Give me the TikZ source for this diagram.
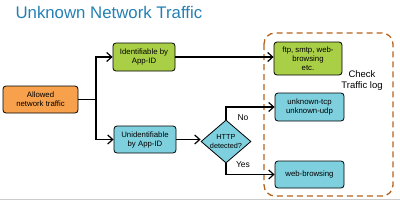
\documentclass[tikz,border=0pt]{standalone}
\usepackage{fontspec}
\setmainfont{Liberation Sans}
\usetikzlibrary{arrows.meta, shapes.geometric}
\definecolor{ofill}{RGB}{247,161,76}
\definecolor{gfill}{RGB}{169,207,70}
\definecolor{cfill}{RGB}{127,208,222}
\definecolor{logline}{RGB}{180,98,30}
\definecolor{titleblue}{RGB}{36,128,180}

\begin{document}
\begin{tikzpicture}[
  x=1pt, y=-1pt,
  font=\fontsize{7.8}{9}\selectfont,
  box/.style={draw, rounded corners=3pt, align=center, inner sep=1pt,
              line width=0.8pt},
  o/.style={box, fill=ofill},
  g/.style={box, fill=gfill},
  c/.style={box, fill=cfill},
  flow/.style={-{Straight Barb[length=5pt, width=9pt, line width=1.2pt]}, line width=1.3pt},
]
\useasboundingbox (0,0) rectangle (400,201);
\draw[black!20, line width=1pt] (0,199.5) -- (400,199.5);

\node[titleblue, anchor=base west, font=\fontsize{16.8}{18}\selectfont] (title) at (12,18.5) {Unknown Network Traffic};

% sources
\node[o, minimum width=75, minimum height=27] (allowed) at (40.5,99.5) {Allowed\\network traffic};
\node[g, minimum width=62, minimum height=28] (ident) at (144,57) {Identifiable by\\App-ID};
\node[c, minimum width=62, minimum height=27] (unid) at (145,139.5) {Unidentifiable\\by App-ID};
\node[c, diamond, rounded corners=0pt, inner sep=0pt, aspect=1.16, minimum width=50, minimum height=43,
      font=\fontsize{7.3}{9}\selectfont] (http) at (226,141.5) {HTTP\\detected?};

% results
\node[g, minimum width=68, minimum height=33] (ftp) at (308,58.5) {ftp, smtp, web-\\browsing\\etc.};
\node[c, minimum width=69, minimum height=28] (tcp) at (309.5,107) {unknown-tcp\\unknown-udp};
\node[c, minimum width=69, minimum height=27] (web) at (309.5,174.5) {web-browsing};

\draw[logline, dashed, dash pattern=on 6pt off 4pt, line width=1.3pt, rounded corners=11pt]
  (264,33) rectangle (393,196);
\node[align=center, font=\fontsize{9.5}{10.5}\selectfont] (check) at (362,80.5) {Check\\Traffic log};

\coordinate (split) at (96,99.5);
\draw[line width=1.3pt] (allowed.east) -- (split);
\draw[flow] (split) |- (ident.west);
\draw[flow] (split) |- (unid.west);
\draw[flow] (ident.east) -- (ident.east -| ftp.west);
\draw[flow] (unid.east) -- (unid.east -| http.west);
\draw[flow, line width=2pt] (http.north) |- (tcp.west);
\draw[flow] (http.south) |- (web.west);
\node[font=\fontsize{8.5}{10}\selectfont] (no) at (243,118) {No};
\node[font=\fontsize{8.5}{10}\selectfont] (yes) at (243,165) {Yes};
\end{tikzpicture}
\end{document}
